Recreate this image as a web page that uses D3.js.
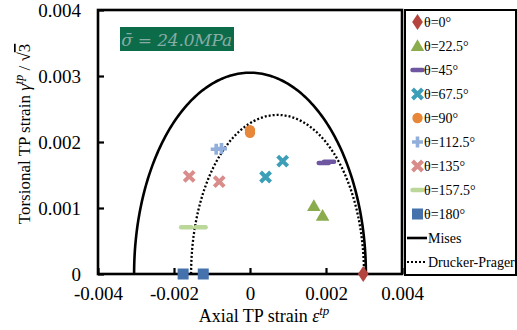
<!DOCTYPE html>
<html lang="en">
<head>
<meta charset="UTF-8" />
<script src="https://d3js.org/d3.v7.min.js"></script>
<title>TP strain</title>
<style>
  body { margin: 0; background: #fff; }
  text { font-family: "Liberation Serif", "Times New Roman", serif; fill: #000; }
</style>
</head>
<body>
<script>
// tick values
var xTicks = [-0.004, -0.002, 0, 0.002, 0.004];
var yTicks = [0, 0.001, 0.002, 0.003, 0.004];

// data points [axial, torsional/sqrt3]
var th0 = [[0.00298, 0.0]];
var th22 = [[0.00168, 0.00103], [0.00191, 0.00088]];
var th45 = [[0.00194, 0.00168], [0.00208, 0.00170]];
var th67 = [[0.00086, 0.00171], [0.00041, 0.00147]];
var th90 = [[0.0, 0.00218], [0.0, 0.00214]];
var th112 = [[-0.00089, 0.00189], [-0.00075, 0.00190]];
var th135 = [[-0.00160, 0.00148], [-0.00081, 0.00140]];
var th157 = [[-0.00168, 0.00071], [-0.00130, 0.00071]];
var th180 = [[-0.00176, 0.0], [-0.00123, 0.0]];

// yield surfaces: Mises circle radius, Drucker-Prager ellipse [centre, semi-x, semi-y]
var misesR = [0.00305];
var dpEllipse = [0.000725, 0.002275, 0.00241];

var labels = ["θ=0°", "θ=22.5°", "θ=45°", "θ=67.5°", "θ=90°", "θ=112.5°", "θ=135°", "θ=157.5°", "θ=180°"];
var colors = ["#b5443f", "#8aac4c", "#6e56a0", "#3d9eb8", "#e6873a", "#92aedb", "#d98c8a", "#bcd79a", "#4572ad"];
var shapes = ["diamond", "triangle", "dash", "x", "circle", "plus", "x", "dash", "square"];
var series = [th0, th22, th45, th67, th90, th112, th135, th157, th180];

var W = 517, H = 330;
var x = d3.scaleLinear().domain([-0.004, 0.004]).range([98, 402]);
var y = d3.scaleLinear().domain([0, 0.004]).range([274, 10]);

var svg = d3.select("body").append("svg")
  .attr("width", W)
  .attr("height", H);

// curves
var angles = d3.range(0, 181, 1).map(function (a) { return a * Math.PI / 180; });
var line = d3.line().x(function (d) { return x(d[0]); }).y(function (d) { return y(d[1]); });

var misesPts = angles.map(function (t) { return [misesR[0] * Math.cos(t), misesR[0] * Math.sin(t)]; });
var dpPts = angles.map(function (t) { return [dpEllipse[0] + dpEllipse[1] * Math.cos(t), dpEllipse[2] * Math.sin(t)]; });

svg.append("path").attr("d", line(misesPts))
  .attr("fill", "none").attr("stroke", "#000").attr("stroke-width", 2.6);
svg.append("path").attr("d", line(dpPts))
  .attr("fill", "none").attr("stroke", "#000").attr("stroke-width", 2.3)
  .attr("stroke-dasharray", "2,2");

// axes
svg.append("g").attr("transform", "translate(0,274)")
  .call(d3.axisBottom(x).tickValues(xTicks).tickSizeInner(-6).tickSizeOuter(0).tickPadding(13)
    .tickFormat(function (d) { return d === 0 ? "0" : d3.format(".3f")(d).replace("−", "-"); }));
svg.append("g").attr("transform", "translate(98,0)")
  .call(d3.axisLeft(y).tickValues(yTicks).tickSizeInner(-6).tickSizeOuter(0).tickPadding(17)
    .tickFormat(function (d) { return d === 0 ? "0" : d3.format(".3f")(d); }));
svg.selectAll(".domain").remove();
svg.selectAll(".tick line").attr("stroke", "#000").attr("stroke-width", 2.2);
svg.selectAll(".tick text").style("font-family", "Liberation Serif").style("font-size", "19px").attr("fill", "#000");

// plot frame
svg.append("rect").attr("x", 98).attr("y", 10).attr("width", 304).attr("height", 264)
  .attr("fill", "none").attr("stroke", "#000").attr("stroke-width", 2.6);

// markers
function drawMarker(g, shape, color, cx, cy) {
  if (shape === "diamond") {
    g.append("path").attr("d", d3.symbol().type(d3.symbolDiamond).size(75)())
      .attr("transform", "translate(" + cx + "," + cy + ") scale(1.15,1)").attr("fill", color);
  } else if (shape === "triangle") {
    g.append("path").attr("d", d3.symbol().type(d3.symbolTriangle).size(80)())
      .attr("transform", "translate(" + cx + "," + (cy + 1) + ")").attr("fill", color);
  } else if (shape === "circle") {
    g.append("circle").attr("cx", cx).attr("cy", cy).attr("r", 5.2).attr("fill", color);
  } else if (shape === "square") {
    g.append("rect").attr("x", cx - 5.5).attr("y", cy - 5.5).attr("width", 11).attr("height", 11).attr("fill", color);
  } else if (shape === "dash") {
    g.append("line").attr("x1", cx - 5).attr("x2", cx + 5).attr("y1", cy).attr("y2", cy)
      .attr("stroke", color).attr("stroke-width", 4.5).attr("stroke-linecap", "round");
  } else if (shape === "plus") {
    g.append("path").attr("d", "M" + (cx - 5.5) + "," + cy + "H" + (cx + 5.5) + "M" + cx + "," + (cy - 5.5) + "V" + (cy + 5.5))
      .attr("stroke", color).attr("stroke-width", 3.6).attr("fill", "none");
  } else if (shape === "x") {
    g.append("path").attr("d", "M" + (cx - 5) + "," + (cy - 5) + "L" + (cx + 5) + "," + (cy + 5) +
      "M" + (cx + 5) + "," + (cy - 5) + "L" + (cx - 5) + "," + (cy + 5))
      .attr("stroke", color).attr("stroke-width", 4).attr("fill", "none");
  }
}

var marks = svg.append("g");
series.forEach(function (pts, i) {
  pts.forEach(function (p) {
    drawMarker(marks, shapes[i], colors[i], x(p[0]), y(p[1]));
  });
});

// annotation
svg.append("rect").attr("x", 120).attr("y", 27).attr("width", 114).attr("height", 24).attr("fill", "#0c6b49");
svg.append("text").attr("x", 121).attr("y", 46)
  .attr("textLength", 111).attr("lengthAdjust", "spacing")
  .style("font-family", "DejaVu Serif").style("font-style", "italic").style("font-size", "17px")
  .style("fill", "#86aca6")
  .text("σ\u0304 = 24.0MPa");

// axis titles
var xt = svg.append("text").attr("x", 264).attr("y", 322).attr("text-anchor", "middle").style("font-size", "18px");
xt.append("tspan").text("Axial TP strain ");
xt.append("tspan").style("font-style", "italic").text("ε");
xt.append("tspan").attr("dy", -7).style("font-style", "italic").style("font-size", "13px").text("tp");

var yt = svg.append("text").attr("transform", "translate(30,134) rotate(-90)").attr("text-anchor", "middle").style("font-size", "17px");
yt.append("tspan").text("Torsional  TP strain ");
yt.append("tspan").style("font-style", "italic").text("γ");
yt.append("tspan").attr("dy", -7).style("font-style", "italic").style("font-size", "12px").text("tp");
yt.append("tspan").attr("dy", 7).text(" / √");
yt.append("tspan").style("text-decoration", "overline").text("3");

// legend
var lg = svg.append("g");
lg.append("rect").attr("x", 405).attr("y", 10).attr("width", 111).attr("height", 265)
  .attr("fill", "#fff").attr("stroke", "#000").attr("stroke-width", 2);
labels.forEach(function (lab, i) {
  var ly = 22 + i * 24;
  drawMarker(lg, shapes[i], colors[i], 417.5, ly);
  lg.append("text").attr("x", 424).attr("y", ly + 5).style("font-size", "14px").text(lab);
});
var ly1 = 22 + 9 * 24, ly2 = 22 + 10 * 24;
lg.append("line").attr("x1", 407).attr("x2", 427).attr("y1", ly1).attr("y2", ly1)
  .attr("stroke", "#000").attr("stroke-width", 2.6);
lg.append("text").attr("x", 428).attr("y", ly1 + 5).style("font-size", "14px").text("Mises");
lg.append("line").attr("x1", 407).attr("x2", 427).attr("y1", ly2).attr("y2", ly2)
  .attr("stroke", "#000").attr("stroke-width", 2).attr("stroke-dasharray", "2,2");
lg.append("text").attr("x", 428).attr("y", ly2 + 5).style("font-size", "14px").text("Drucker-Prager");
</script>
</body>
</html>
